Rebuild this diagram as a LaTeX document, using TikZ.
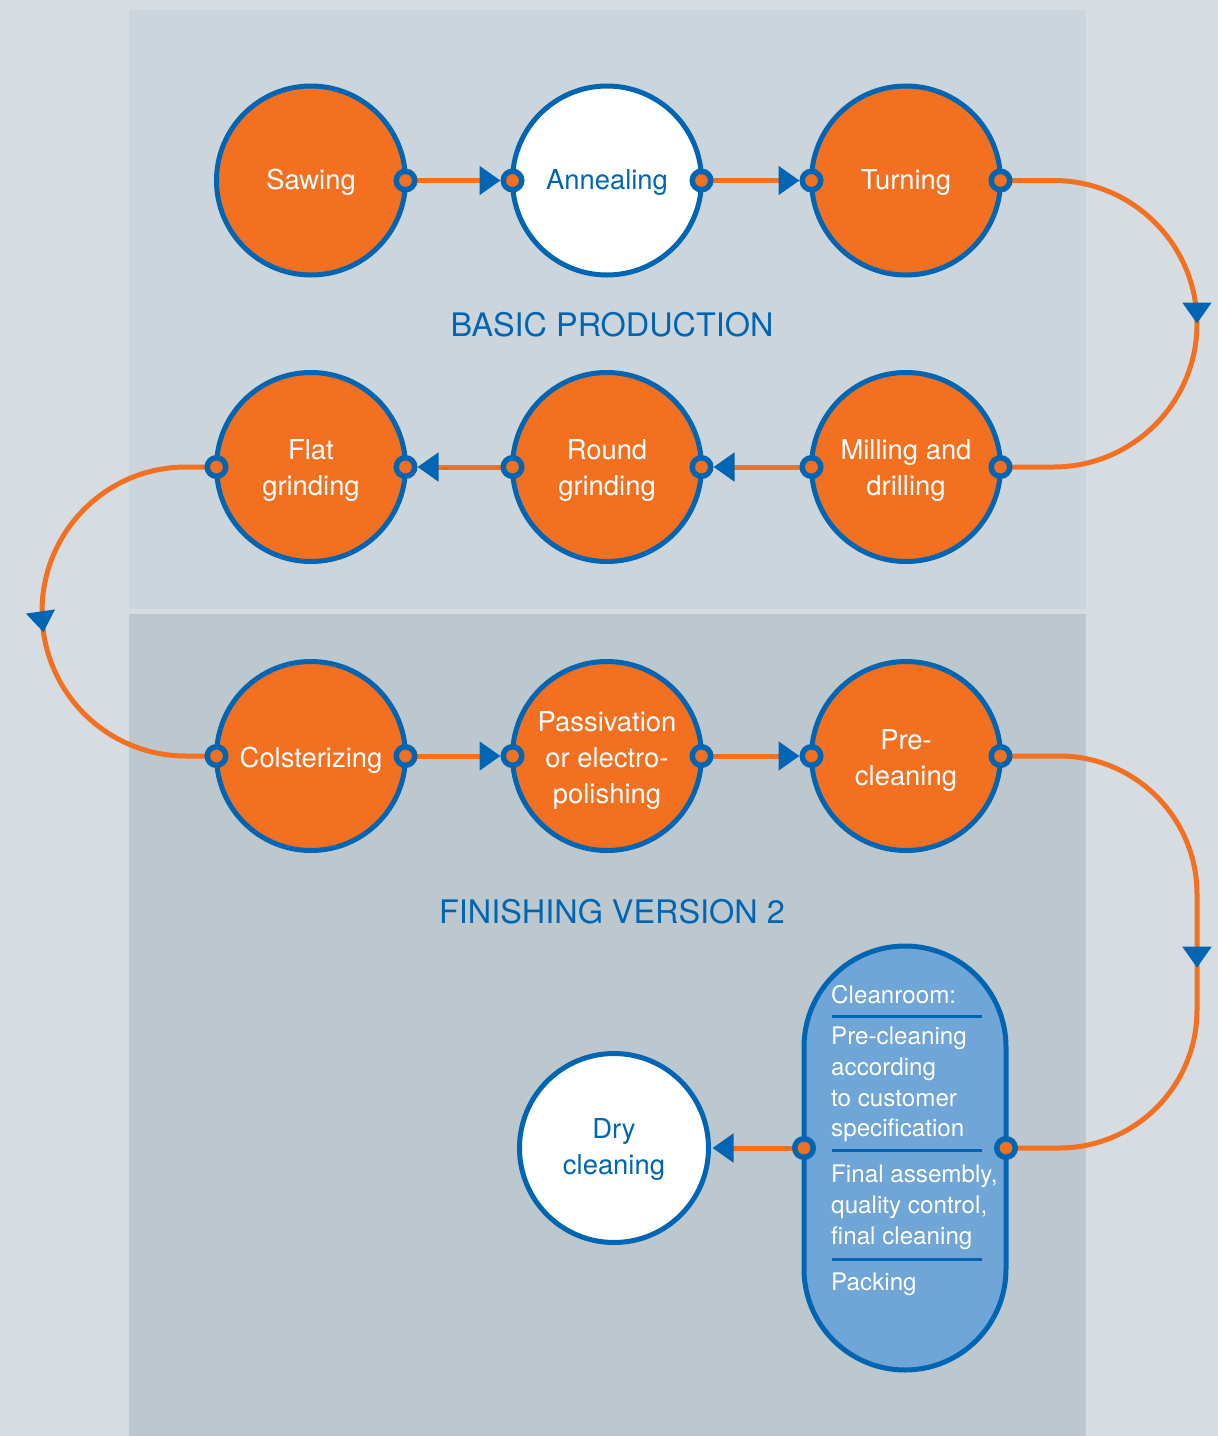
\documentclass[tikz,border=0pt]{standalone}
\usepackage{fontspec}
\setmainfont{TeX Gyre Heros}
\usetikzlibrary{arrows.meta,decorations.markings}
\definecolor{bgout}{HTML}{D5DDE3}
\definecolor{panelA}{HTML}{CCD5DB}
\definecolor{panelB}{HTML}{BDC8CE}
\definecolor{corange}{HTML}{F37021}
\definecolor{cblue}{HTML}{0066B3}
\definecolor{clight}{HTML}{6FA5D7}
\newcommand{\mystrut}[1]{\rule{0pt}{#1}}
\begin{document}
\begin{tikzpicture}[x=1pt,y=-1pt,
  stepcircle/.style={circle, draw=cblue, line width=5pt, minimum size=189pt, inner sep=0pt, outer sep=0pt,
    fill=corange, text=white, align=center, font=\fontsize{27.4}{36}\selectfont},
  whitecircle/.style={stepcircle, fill=white, text=cblue},
  cleanroom/.style={rectangle, draw=cblue, fill=clight, line width=5pt, minimum width=202pt,
    minimum height=424pt, rounded corners=101pt, inner sep=0pt, outer sep=0pt},
  port/.style={circle, draw=cblue, fill=corange, line width=5.5pt, minimum size=18.5pt, inner sep=0pt, outer sep=0pt},
  conn/.style={draw=corange, line width=5pt},
  fwd/.style={conn, -{Triangle[length=21pt,width=28pt,color=cblue]}, shorten >=12pt},
  midarrow/.style={postaction={decorate, decoration={markings,
    mark=at position #1 with {\arrow{Triangle[length=21pt,width=28pt,color=cblue]}}}}},
  titletext/.style={text=cblue, font=\fontsize{32.4}{38}\selectfont, inner sep=0pt},
  crtext/.style={anchor=base west, text=white, inner sep=0pt, font=\fontsize{24.2}{31}\selectfont},
  divider/.style={draw=cblue, line width=3pt}
]
% background
\fill[bgout] (0,0) rectangle (1218,1436);
\fill[panelA] (129,10) rectangle (1086,609);
\fill[panelB] (129,614) rectangle (1086,1436);
\useasboundingbox (0,0) rectangle (1218,1436);

% titles
\node[titletext] (t1) at (612,325) {BASIC PRODUCTION};
\node[titletext] (t2) at (612,912) {FINISHING VERSION 2};

% steps
\node[stepcircle] (saw) at (311,180.5) {\mystrut{24pt}Sawing};
\node[whitecircle] (ann) at (607,180.5) {\mystrut{24pt}Annealing};
\node[stepcircle] (turn) at (906,180.5) {\mystrut{24pt}Turning};
\node[stepcircle] (mill) at (906,467) {\mystrut{27pt}Milling and\\drilling};
\node[stepcircle] (round) at (607,467) {\mystrut{27pt}Round\\grinding};
\node[stepcircle] (flat) at (311,467) {\mystrut{27pt}Flat\\grinding};
\node[stepcircle] (cols) at (311,756) {\mystrut{29.5pt}Colsterizing};
\node[stepcircle] (pass) at (607,756) {\mystrut{29pt}Passivation\\or electro-\\polishing};
\node[stepcircle] (pre) at (906,756) {\mystrut{29pt}Pre-\\cleaning};
\node[whitecircle] (dry) at (614,1148) {\mystrut{22pt}Dry\\cleaning};
\node[cleanroom] (clean) at (905,1158) {};
\coordinate (cleanE) at ([yshift=10pt]clean.east);
\coordinate (cleanW) at ([yshift=10pt]clean.west);

% cleanroom contents
\node[crtext] (c1) at (831,1003) {Cleanroom:};
\draw[divider] (832,1016) -- (982,1016);
\node[crtext] (c2) at (831,1044) {Pre-cleaning};
\node[crtext] (c3) at (831,1075) {according};
\node[crtext] (c4) at (831,1106) {to customer};
\node[crtext] (c5) at (831,1136) {specification};
\draw[divider] (832,1150) -- (982,1150);
\node[crtext] (c6) at (831,1182) {Final assembly,};
\node[crtext] (c7) at (831,1213) {quality control,};
\node[crtext] (c8) at (831,1244) {final cleaning};
\draw[divider] (832,1259) -- (982,1259);
\node[crtext] (c9) at (831,1290) {Packing};

% connectors
\draw[fwd] (saw.east) -- (ann.west);
\draw[fwd] (ann.east) -- (turn.west);
\draw[conn, midarrow=278pt] (turn.east) -- (1053.5,180.5)
  .. controls (1132.6,180.5) and (1197,244.6) .. (1197,323.75)
  .. controls (1197,402.9) and (1132.6,467) .. (1053.5,467) -- (mill.east);
\draw[fwd] (mill.west) -- (round.east);
\draw[fwd] (round.west) -- (flat.east);
\draw[conn, midarrow=278pt] (flat.west) -- (186,467)
  .. controls (106.5,467) and (42,531.5) .. (42,611.5)
  .. controls (42,691.5) and (106.5,756) .. (186,756) -- (cols.west);
\draw[fwd] (cols.east) -- (pass.west);
\draw[fwd] (pass.east) -- (pre.west);
\draw[conn, midarrow=349pt] (pre.east) -- (1059,756)
  .. controls (1135.2,756) and (1197,817.8) .. (1197,894) -- (1197,1010)
  .. controls (1197,1086.2) and (1135.2,1148) .. (1059,1148) -- (cleanE);
\draw[conn, -{Triangle[length=21pt,width=28pt,color=cblue]}, shorten >=4pt] (cleanW) -- (dry.east);

% ports
\node[port] (saw-e) at (saw.east) {};
\node[port] (ann-w) at (ann.west) {};
\node[port] (ann-e) at (ann.east) {};
\node[port] (turn-w) at (turn.west) {};
\node[port] (turn-e) at (turn.east) {};
\node[port] (mill-w) at (mill.west) {};
\node[port] (mill-e) at (mill.east) {};
\node[port] (round-w) at (round.west) {};
\node[port] (round-e) at (round.east) {};
\node[port] (flat-w) at (flat.west) {};
\node[port] (flat-e) at (flat.east) {};
\node[port] (cols-w) at (cols.west) {};
\node[port] (cols-e) at (cols.east) {};
\node[port] (pass-w) at (pass.west) {};
\node[port] (pass-e) at (pass.east) {};
\node[port] (pre-w) at (pre.west) {};
\node[port] (pre-e) at (pre.east) {};
\node[port] (clean-w) at (cleanW) {};
\node[port] (clean-e) at (cleanE) {};
\end{tikzpicture}
\end{document}
